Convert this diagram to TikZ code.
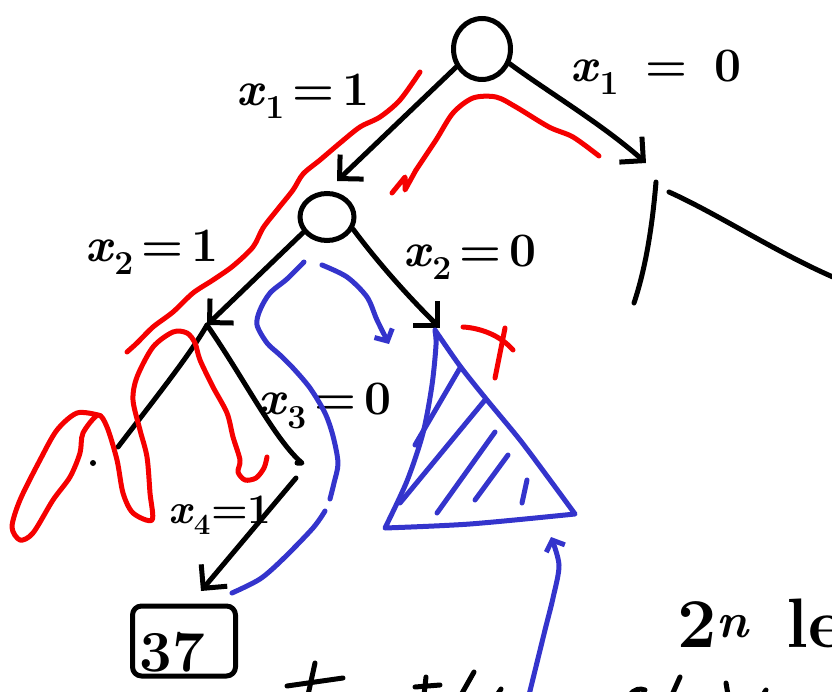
\documentclass[tikz,border=0pt]{standalone}
\usepackage{fontspec}
\usetikzlibrary{arrows.meta,shapes.geometric}

\definecolor{penred}{RGB}{245,0,0}
\definecolor{penblue}{RGB}{52,52,204}

\newcommand{\xv}[1]{\textit{x}\textsubscript{#1}}

\tikzset{
  ink/.style={line width=5pt,line cap=round,line join=round},
  redink/.style={ink,draw=penred},
  blueink/.style={ink,draw=penblue},
  barb/.style={-{Straight Barb[length=17pt,width=34pt]}},
  smallbarb/.style={-{Straight Barb[length=9pt,width=20pt]}},
  knot/.style={draw,ellipse,line width=5pt,inner sep=0pt},
  lbl/.style={font=\fontsize{48}{54}\selectfont\bfseries},
}

\begin{document}
\begin{tikzpicture}[x=1pt,y=-1pt]
  \useasboundingbox (0,0) rectangle (832,692);
  \clip (0,0) rectangle (832,692);

  % tree nodes
  \node[knot,minimum width=57pt,minimum height=61pt] (root) at (482,49) {};
  \node[knot,minimum width=54pt,minimum height=47pt] (mid) at (327,217) {};
  \node[draw,ink,rounded corners=9pt,minimum width=103pt,minimum height=70pt] (leaf) at (184,641) {};
  \node[font=\fontsize{58}{62}\selectfont\bfseries] (val) at (172,652) {37};

  \coordinate (tipA) at (337,181);
  \coordinate (tipB) at (646,163);
  \coordinate (sub) at (207,325);
  \coordinate (tipC) at (440,328);
  \coordinate (dead) at (118,447);
  \coordinate (turn) at (302,463);
  \coordinate (go) at (296,478);
  \coordinate (tipD) at (201,591);

  % black edges
  \draw[ink,barb] (root.215) -- (tipA);
  \draw[ink,barb] (root.-28) .. controls (548,92) and (602,124) .. (tipB);
  \draw[ink,barb] (mid.213) -- (sub);
  \draw[ink,barb] (mid.-25) .. controls (385,272) and (418,306) .. (tipC);
  \draw[ink] (sub) .. controls (190,355) and (150,405) .. (dead);
  \draw[ink] (sub) .. controls (245,380) and (275,440) .. (turn) -- +(-5,0);
  \draw[ink,barb] (go) -- (tipD);
  \fill (93,463) circle (3pt);

  % x1=0 side
  \draw[ink] (656,182) .. controls (652,230) and (645,270) .. (634,303);
  \draw[ink] (669,192) .. controls (720,215) and (780,255) .. (840,280);

  % labels
  \node[lbl] (l1) at (303,96) {\xv{1}\,=\,1};
  \node[lbl] (r1) at (656,72) {\xv{1}\;\;=\;\;0};
  \node[lbl] (l2) at (152,252) {\xv{2}\,=\,1};
  \node[lbl] (r2) at (470,257) {\xv{2}\,=\,0};
  \node[lbl] (l3) at (325,406) {\xv{3}\,=\,0};
  \node[lbl,font=\fontsize{42}{48}\selectfont\bfseries] (l4) at (220,515) {\xv{4}=1};
  \node[font=\fontsize{70}{76}\selectfont\bfseries,anchor=base west] (count) at (674,647) {2\textsuperscript{\textit{n}}\hspace{36pt}le};

  % red path
  \draw[redink] plot[smooth] coordinates {(420,72) (400,100) (380,117) (360,127) (340,143) (320,160) (303,174) (293,190) (277,210) (263,228) (253,247) (233,266) (213,280) (193,293) (173,312) (153,327) (137,343) (127,352)};
  \draw[redink] (392,193) -- (405,177) -- (405,190) -- (416,170);
  \draw[redink] plot[smooth] coordinates {(416,170) (436,140) (453,113) (473,98) (496,97) (516,107) (549,127) (573,137) (599,156)};
  \draw[redink] plot[smooth] coordinates {(98,415) (77,413) (57,430) (40,460) (20,500) (12,527) (20,540) (33,533) (53,500) (70,477) (80,453) (83,433) (98,415) (107,427) (117,460) (123,493) (133,513) (152,520) (150,493) (147,457) (140,430) (133,400) (137,377) (153,347) (173,332) (187,333) (195,343) (200,360) (213,387) (227,413) (233,437) (240,460) (238,472) (245,480) (256,478) (264,468) (267,457)};
  \draw[redink] (463,327) .. controls (480,328) and (500,335) .. (513,350);
  \draw[redink] (505,328) -- (495,378);

  % blue
  \draw[blueink,smallbarb] plot[smooth] coordinates {(322,265) (347,277) (367,297) (377,320) (389,344)};
  \draw[blueink] plot[smooth] coordinates {(304,262) (287,279) (270,293) (260,310) (257,325) (267,343) (280,355) (293,368) (310,388) (325,413) (333,436) (338,463) (334,483) (330,499)};
  \draw[blueink] plot[smooth] coordinates {(325,511) (313,528) (283,559) (260,579) (232,593)};
  \draw[blueink] plot[smooth] coordinates {(435,330) (460,366) (487,400) (520,440) (550,480) (575,514)}
    -- plot[smooth] coordinates {(575,514) (470,524) (385,528)}
    -- plot[smooth] coordinates {(385,528) (407,481) (423,433) (432,385) (436,345) (435,331)};
  \foreach \xa/\ya/\xb/\yb in {460/368/415/445, 485/400/400/503, 495/432/437/513, 508/455/475/500, 527/480/522/503}
    \draw[blueink] (\xa,\ya) -- (\xb,\yb);
  \draw[blueink,smallbarb] plot[smooth] coordinates {(529,695) (545,630) (553,598) (559,565) (551,537)};

  % cut-off writing at the bottom
  \draw[ink] (287,686) -- (343,678);
  \draw[ink] (315,663) -- (308,695);
  \draw[ink] (415,687) -- (440,685);
  \draw[ink] (426,677) -- (424,695);
  \draw[ink] (474,672) -- (461,695);
  \draw[ink] (497,695) -- (501,689);
  \draw[ink] (630,695) .. controls (634,689) and (640,688) .. (645,690);
  \draw[ink] (680,677) -- (672,695);
  \draw[ink] (726,683) -- (728,695);
  \draw[ink] (763,695) -- (766,690);
\end{tikzpicture}
\end{document}
